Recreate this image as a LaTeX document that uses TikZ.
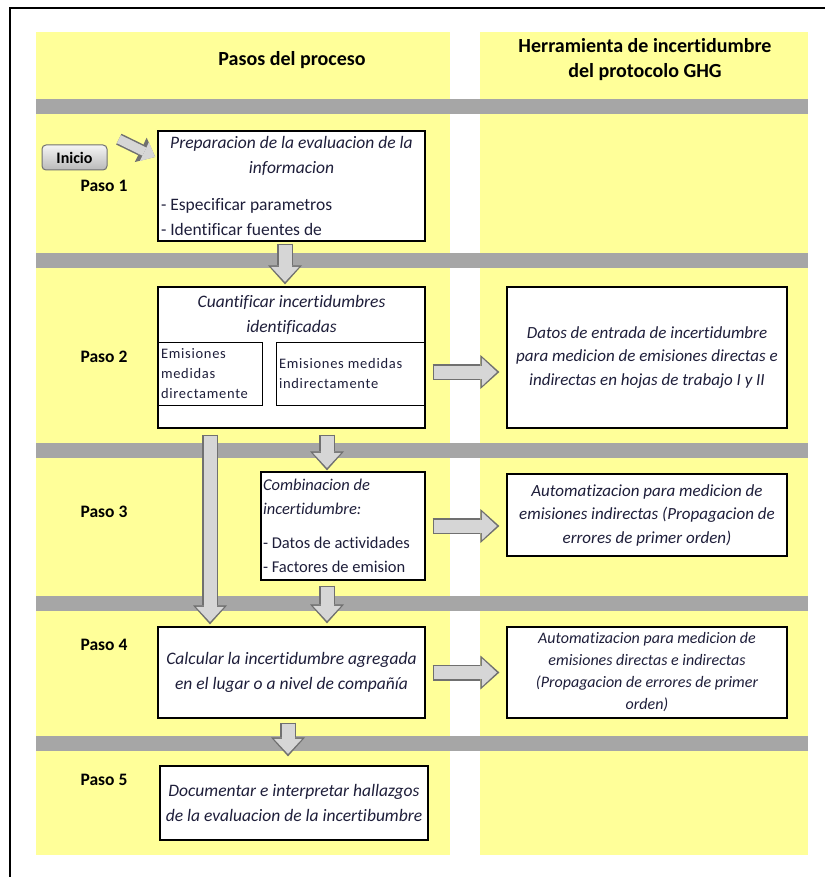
\documentclass[tikz,border=0pt]{standalone}
\usepackage{fontspec}
\setmainfont{Carlito}[Ligatures=NoCommon]
\usetikzlibrary{arrows.meta,shadows}

\definecolor{amarillo}{HTML}{FFFF99}
\definecolor{banda}{HTML}{A6A6A6}
\definecolor{relleno}{HTML}{D6D6D6}
\definecolor{borde}{HTML}{707070}
\definecolor{texto}{HTML}{1E1E3A}

\newcommand\txt{\fontsize{17.5}{24.5}\selectfont}

\tikzset{
  caja/.style={draw, line width=1.2pt, fill=white, inner sep=3pt, text=texto,
    drop shadow={shadow xshift=1.3pt, shadow yshift=-1.3pt, opacity=.6}},
  sub/.style={draw, line width=1pt, inner sep=3pt, align=flush left, text=texto,
    font=\fontsize{14.5}{20}\selectfont\addfontfeature{LetterSpace=5}},
  paso/.style={font=\bfseries\fontsize{17.5}{20}\selectfont},
  flecha/.style 2 args={draw=relleno, line width=13pt,
    -{Triangle[width=28pt,length=15pt,line width=0pt]},
    shorten <=#1+1.5pt, shorten >=#2+2.5pt,
    preaction={draw=borde, line width=16pt,
      -{Triangle[width=34pt,length=19pt,line width=0pt]},
      shorten <=#1, shorten >=#2}},
  flechita/.style={draw=relleno, line width=9pt,
    -{Triangle[width=21pt,length=12pt,line width=0pt]},
    shorten <=1.5pt, shorten >=2.5pt,
    preaction={draw=borde, line width=12pt,
      -{Triangle[width=27pt,length=16pt,line width=0pt]}}}
}

\begin{document}
\begin{tikzpicture}[x=1pt,y=-1pt]
  \useasboundingbox (0,0) rectangle (825,877);

  % marco y columnas
  \draw[line width=1.6pt] (10,877) -- (10,8) -- (825,8);
  \fill[amarillo] (36,32) rectangle (450,855);
  \fill[amarillo] (480,32) rectangle (808,855);
  \foreach \y in {99,253,443,596,736}
    \fill[banda] (36,\y) rectangle (808,\y+15);

  \node[font=\bfseries\fontsize{20}{25}\selectfont] (pasos) at (292,60) {Pasos del proceso};
  \node[font=\bfseries\fontsize{20}{25}\selectfont, align=center] (herr) at (645,60)
    {Herramienta de incertidumbre\\del protocolo GHG};

  \begin{scope}[every node/.style={paso}]
    \node (p1) at (104,186) {Paso 1};
    \node (p2) at (104,357) {Paso 2};
    \node (p3) at (104,512) {Paso 3};
    \node (p4) at (104,645) {Paso 4};
    \node (p5) at (104,780) {Paso 5};
  \end{scope}

  \node[draw=borde, line width=1pt, rounded corners=4pt, top color=gray!8, bottom color=gray!55,
    minimum width=65pt, minimum height=25pt, font=\bfseries\fontsize{16}{18}\selectfont]
    (inicio) at (74.5,157.5) {Inicio};

  % pasos del proceso
  \node[caja, minimum width=267pt, minimum height=110pt, text width=261pt, align=flush left,
    font=\txt] (prep) at (291.5,186)
    {{\centering\itshape Preparacion de la evaluacion de la\\informacion\par}\vspace{13pt}
     - Especificar parametros\\- Identificar fuentes de};

  \node[caja, minimum width=267pt, minimum height=141pt] (cuant) at (291.5,357.5) {};
  \node[font=\itshape\txt, align=center, text=texto] (cuanttit) at (291.5,315)
    {Cuantificar incertidumbres\\identificadas};
  \node[sub, minimum width=104pt, minimum height=63pt, text width=98pt] (dir) at (210,373.5)
    {Emisiones\\medidas\\directamente};
  \node[sub, minimum width=149pt, minimum height=63pt, text width=143pt] (indir) at (350.5,373.5)
    {Emisiones medidas\\indirectamente};

  \node[caja, minimum width=164pt, minimum height=108pt, text width=160pt, inner sep=2pt,
    align=flush left, font=\fontsize{16.5}{24}\selectfont] (comb) at (343,526)
    {{\itshape Combinacion de\\incertidumbre:\par}\vspace{10pt}
     - Datos de actividades\\- Factores de emision};

  \node[caja, minimum width=267pt, minimum height=91pt, align=center, font=\itshape\txt]
    (agreg) at (291.5,672.5)
    {Calcular la incertidumbre agregada\\en el lugar o a nivel de compañía};

  \node[caja, minimum width=268pt, minimum height=74pt, align=center, font=\itshape\txt]
    (doc) at (294,803)
    {Documentar e interpretar hallazgos\\de la evaluacion de la incertibumbre};

  % herramienta GHG
  \begin{scope}[every node/.append style={caja, minimum width=280pt, align=center}]
    \node[minimum height=141pt, font=\itshape\fontsize{17}{23.5}\selectfont] (datos) at (647,357.5)
      {Datos de entrada de incertidumbre\\para medicion de emisiones directas e\\indirectas en hojas de trabajo I y II};
    \node[minimum height=82pt, font=\itshape\fontsize{17}{23.5}\selectfont] (autind) at (647,515)
      {Automatizacion para medicion de\\emisiones indirectas (Propagacion de\\errores de primer orden)};
    \node[minimum height=91pt, font=\itshape\fontsize{16}{22}\selectfont] (autdir) at (647,672.5)
      {Automatizacion para medicion de\\emisiones directas e indirectas\\(Propagacion de errores de primer\\orden)};
  \end{scope}

  \coordinate (x2) at (285,0);
  \coordinate (x3) at (327,0);
  \coordinate (x5) at (288,0);

  % flechas
  \draw[flechita] ([shift={(10pt,6pt)}]inicio.north east) -- ([yshift=28pt]prep.west);
  \draw[flecha={2pt}{2pt}] (prep.south -| x2) -- (cuant.north -| x2);
  \draw[flecha={6pt}{2pt}] (dir.south |- cuant.south) -- (dir.south |- agreg.north);
  \draw[flecha={6pt}{1pt}] (cuant.south -| x3) -- (comb.north -| x3);
  \draw[flecha={5pt}{3pt}] (comb.south -| x3) -- (agreg.north -| x3);
  \draw[flecha={4pt}{9pt}] (agreg.south -| x5) -- (doc.north -| x5);
  \draw[flecha={7pt}{7pt}] ([yshift=-14.5pt]cuant.east) -- ([yshift=-14.5pt]datos.west);
  \draw[flecha={7pt}{7pt}] (comb.east) -- (comb.east -| autind.west);
  \draw[flecha={7pt}{7pt}] (agreg.east) -- (autdir.west);
\end{tikzpicture}
\end{document}
